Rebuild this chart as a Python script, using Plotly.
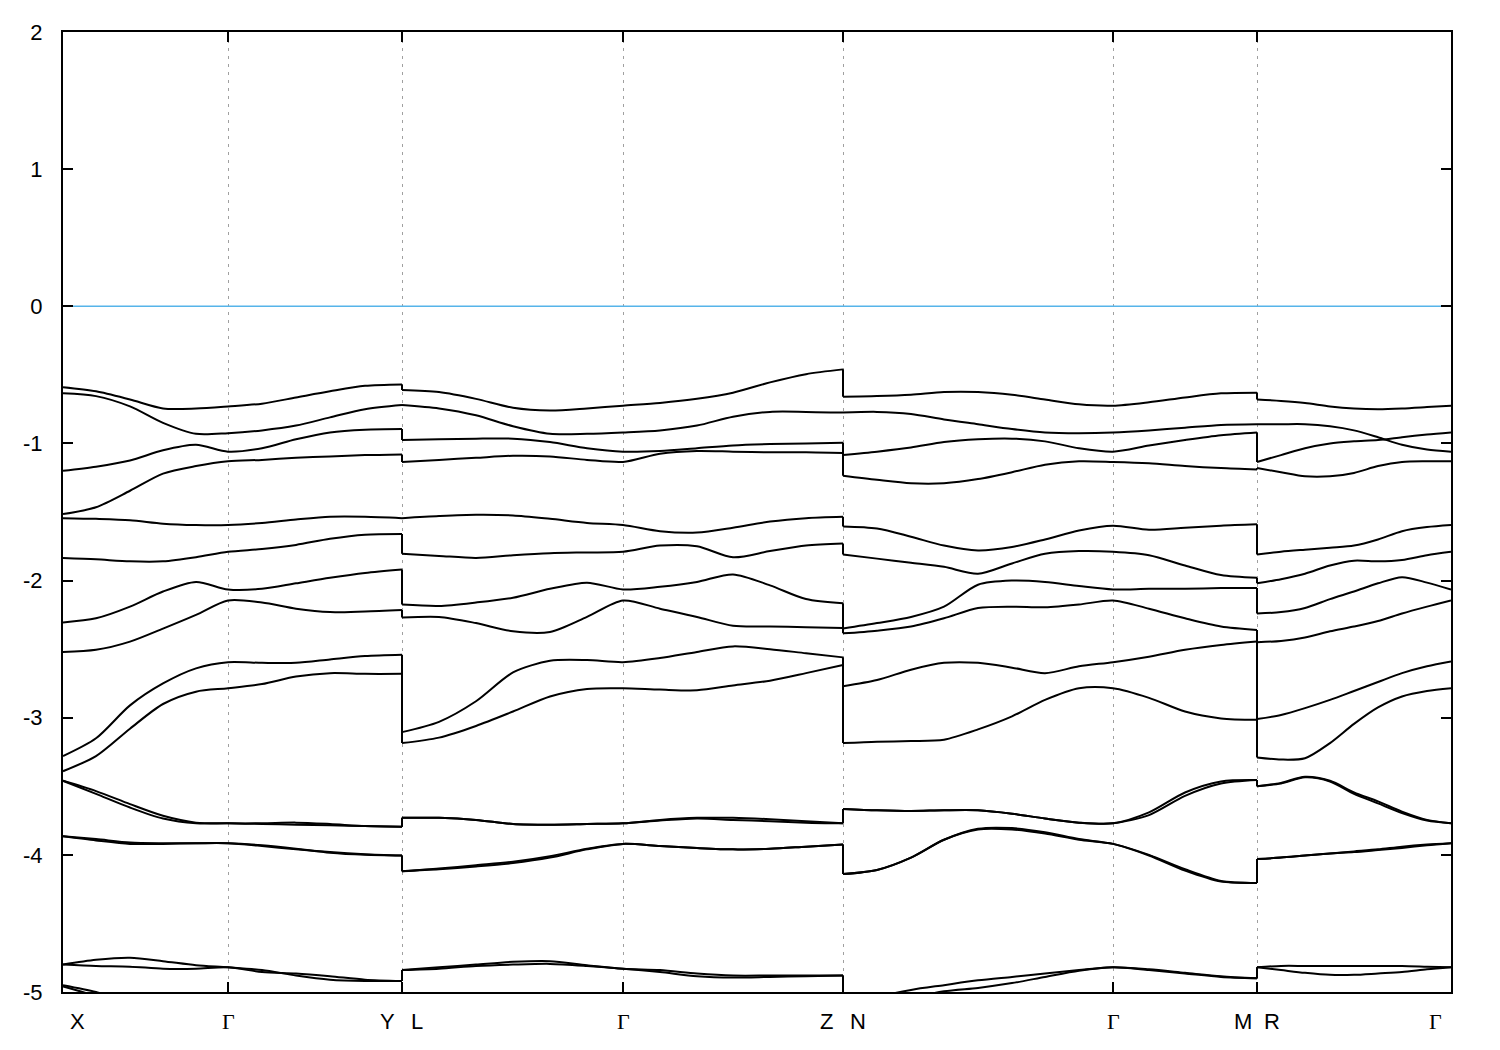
import plotly.graph_objects as go

# ---------------- data (energies in eV) ----------------
FERMI = 0.0
Y_TICKS = [-5, -4, -3, -2, -1, 0, 1, 2]

# high-symmetry points along the path (path coordinate)
SPECIAL_K = [0, 165, 339, 560, 780, 1050, 1194, 1388]
X_LABELS = ["X", "Γ", "Y", "L", "Γ", "Z", "N", "Γ", "M", "R", "Γ"]
X_LABEL_K = [0, 165, 339, 339, 560, 780, 780, 1050, 1194, 1194, 1388]

# band order in every segment: A B C D E F G H I J K1 K2 L1 L2 M1 M2 (N1 N2)
SEG1_K = [0, 33, 67, 100, 133, 165, 199, 233, 267, 302, 339]
SEG1_BANDS = [
    [-0.59, -0.62, -0.68, -0.745, -0.745, -0.73, -0.71, -0.665, -0.62, -0.58, -0.57],
    [-0.635, -0.655, -0.73, -0.85, -0.93, -0.925, -0.905, -0.87, -0.81, -0.75, -0.72],
    [-1.20, -1.17, -1.125, -1.05, -1.01, -1.06, -1.035, -0.97, -0.92, -0.90, -0.895],
    [-1.515, -1.465, -1.345, -1.22, -1.165, -1.13, -1.12, -1.105, -1.095, -1.085, -1.08],
    [-1.545, -1.55, -1.56, -1.585, -1.595, -1.595, -1.58, -1.555, -1.535, -1.535, -1.545],
    [-1.835, -1.845, -1.86, -1.86, -1.83, -1.79, -1.77, -1.74, -1.695, -1.665, -1.66],
    [-2.305, -2.275, -2.19, -2.08, -2.01, -2.065, -2.06, -2.02, -1.98, -1.945, -1.92],
    [-2.52, -2.505, -2.445, -2.35, -2.25, -2.145, -2.16, -2.205, -2.23, -2.225, -2.215],
    [-3.28, -3.15, -2.91, -2.75, -2.64, -2.595, -2.60, -2.60, -2.575, -2.55, -2.54],
    [-3.39, -3.28, -3.08, -2.90, -2.81, -2.785, -2.755, -2.70, -2.675, -2.68, -2.68],
    [-3.46, -3.535, -3.63, -3.715, -3.765, -3.77, -3.77, -3.765, -3.775, -3.79, -3.795],
    [-3.46, -3.555, -3.655, -3.735, -3.77, -3.77, -3.775, -3.78, -3.785, -3.79, -3.795],
    [-3.865, -3.885, -3.91, -3.915, -3.915, -3.915, -3.935, -3.96, -3.98, -3.995, -4.005],
    [-3.865, -3.895, -3.92, -3.92, -3.915, -3.915, -3.93, -3.955, -3.985, -4.0, -4.005],
    [-4.80, -4.765, -4.75, -4.775, -4.805, -4.82, -4.84, -4.88, -4.91, -4.92, -4.92],
    [-4.80, -4.81, -4.815, -4.83, -4.83, -4.82, -4.855, -4.865, -4.885, -4.91, -4.92],
    [-4.95, -5.0, -5.08, -5.15, -5.2, -5.25, -5.28, -5.3, -5.32, -5.33, -5.34],
    [-4.96, -5.03, -5.12, -5.2, -5.26, -5.3, -5.33, -5.35, -5.37, -5.38, -5.39],
]

SEG2_K = [339, 376, 413, 450, 487, 524, 560, 597, 634, 670, 707, 743, 780]
SEG2_BANDS = [
    [-0.61, -0.625, -0.675, -0.74, -0.76, -0.745, -0.725, -0.705, -0.675, -0.63, -0.555, -0.495, -0.46],
    [-0.72, -0.745, -0.795, -0.875, -0.93, -0.93, -0.92, -0.905, -0.87, -0.805, -0.77, -0.77, -0.775],
    [-0.975, -0.97, -0.965, -0.965, -0.99, -1.035, -1.06, -1.055, -1.035, -1.015, -1.005, -1.0, -0.995],
    [-1.135, -1.12, -1.105, -1.09, -1.095, -1.12, -1.135, -1.075, -1.055, -1.06, -1.065, -1.065, -1.07],
    [-1.545, -1.53, -1.52, -1.525, -1.55, -1.58, -1.595, -1.64, -1.65, -1.615, -1.57, -1.545, -1.535],
    [-1.805, -1.82, -1.835, -1.815, -1.80, -1.795, -1.79, -1.745, -1.75, -1.83, -1.785, -1.745, -1.73],
    [-2.175, -2.185, -2.16, -2.125, -2.06, -2.015, -2.065, -2.045, -2.01, -1.955, -2.035, -2.135, -2.165],
    [-2.27, -2.265, -2.31, -2.37, -2.375, -2.265, -2.145, -2.205, -2.265, -2.33, -2.335, -2.34, -2.345],
    [-3.105, -3.03, -2.88, -2.67, -2.585, -2.58, -2.595, -2.565, -2.52, -2.48, -2.50, -2.53, -2.56],
    [-3.185, -3.145, -3.06, -2.955, -2.845, -2.79, -2.785, -2.795, -2.80, -2.765, -2.73, -2.675, -2.615],
    [-3.73, -3.73, -3.745, -3.775, -3.78, -3.775, -3.77, -3.745, -3.73, -3.73, -3.74, -3.755, -3.77],
    [-3.73, -3.73, -3.745, -3.775, -3.78, -3.775, -3.77, -3.75, -3.735, -3.745, -3.755, -3.765, -3.77],
    [-4.12, -4.105, -4.085, -4.06, -4.02, -3.96, -3.92, -3.935, -3.95, -3.96, -3.955, -3.94, -3.925],
    [-4.12, -4.10, -4.075, -4.05, -4.01, -3.955, -3.92, -3.935, -3.95, -3.96, -3.955, -3.94, -3.925],
    [-4.84, -4.82, -4.80, -4.78, -4.775, -4.805, -4.83, -4.84, -4.865, -4.88, -4.88, -4.88, -4.88],
    [-4.84, -4.83, -4.81, -4.80, -4.795, -4.81, -4.83, -4.855, -4.885, -4.895, -4.89, -4.885, -4.88],
]

SEG3_K = [780, 814, 848, 881, 915, 949, 982, 1016, 1050, 1086, 1122, 1158, 1194]
SEG3_BANDS = [
    [-0.66, -0.655, -0.645, -0.625, -0.625, -0.645, -0.68, -0.715, -0.725, -0.70, -0.665, -0.635, -0.63],
    [-0.775, -0.77, -0.785, -0.825, -0.86, -0.895, -0.92, -0.925, -0.92, -0.905, -0.885, -0.865, -0.86],
    [-1.085, -1.06, -1.03, -0.99, -0.97, -0.965, -0.985, -1.035, -1.06, -1.015, -0.975, -0.94, -0.92],
    [-1.235, -1.265, -1.29, -1.29, -1.26, -1.21, -1.155, -1.13, -1.135, -1.145, -1.165, -1.18, -1.19],
    [-1.605, -1.62, -1.68, -1.745, -1.78, -1.755, -1.70, -1.635, -1.60, -1.63, -1.615, -1.60, -1.59],
    [-1.81, -1.84, -1.87, -1.90, -1.95, -1.875, -1.805, -1.785, -1.79, -1.815, -1.89, -1.96, -1.98],
    [-2.35, -2.31, -2.265, -2.19, -2.03, -2.0, -2.01, -2.04, -2.065, -2.06, -2.06, -2.055, -2.055],
    [-2.385, -2.365, -2.335, -2.275, -2.20, -2.19, -2.195, -2.175, -2.145, -2.205, -2.275, -2.335, -2.36],
    [-2.77, -2.725, -2.65, -2.60, -2.60, -2.635, -2.675, -2.625, -2.595, -2.555, -2.505, -2.47, -2.445],
    [-3.185, -3.175, -3.17, -3.16, -3.085, -2.99, -2.87, -2.785, -2.785, -2.855, -2.955, -3.005, -3.015],
    [-3.665, -3.675, -3.68, -3.675, -3.675, -3.70, -3.735, -3.765, -3.77, -3.69, -3.545, -3.465, -3.455],
    [-3.665, -3.675, -3.68, -3.675, -3.675, -3.70, -3.735, -3.765, -3.77, -3.71, -3.57, -3.48, -3.455],
    [-4.14, -4.11, -4.02, -3.89, -3.81, -3.805, -3.835, -3.885, -3.92, -4.0, -4.105, -4.19, -4.205],
    [-4.14, -4.11, -4.02, -3.89, -3.815, -3.815, -3.845, -3.89, -3.92, -4.005, -4.115, -4.195, -4.205],
    [-5.15, -5.04, -4.985, -4.95, -4.915, -4.89, -4.865, -4.84, -4.82, -4.835, -4.86, -4.885, -4.90],
    [-5.25, -5.15, -5.05, -4.995, -4.97, -4.935, -4.89, -4.845, -4.82, -4.84, -4.865, -4.89, -4.90],
]

SEG4_K = [1194, 1218, 1242, 1267, 1291, 1315, 1339, 1364, 1388]
SEG4_BANDS = [
    [-0.68, -0.69, -0.705, -0.73, -0.745, -0.75, -0.745, -0.735, -0.725],
    [-0.86, -0.86, -0.86, -0.875, -0.905, -0.955, -1.01, -1.045, -1.06],
    [-1.135, -1.085, -1.035, -1.0, -0.985, -0.975, -0.955, -0.935, -0.92],
    [-1.18, -1.21, -1.24, -1.24, -1.215, -1.165, -1.135, -1.13, -1.13],
    [-1.81, -1.79, -1.775, -1.76, -1.745, -1.70, -1.64, -1.61, -1.595],
    [-2.02, -1.99, -1.95, -1.89, -1.855, -1.86, -1.85, -1.815, -1.79],
    [-2.24, -2.23, -2.20, -2.135, -2.08, -2.02, -1.975, -2.015, -2.065],
    [-3.29, -3.305, -3.295, -3.185, -3.045, -2.925, -2.845, -2.805, -2.785],
    [-2.45, -2.44, -2.415, -2.37, -2.335, -2.295, -2.24, -2.19, -2.145],
    [-3.01, -2.98, -2.93, -2.87, -2.805, -2.74, -2.675, -2.625, -2.59],
    [-3.50, -3.475, -3.43, -3.46, -3.545, -3.61, -3.685, -3.745, -3.77],
    [-3.50, -3.48, -3.435, -3.465, -3.555, -3.625, -3.695, -3.75, -3.77],
    [-4.03, -4.02, -4.005, -3.99, -3.975, -3.96, -3.94, -3.925, -3.915],
    [-4.03, -4.02, -4.005, -3.99, -3.98, -3.965, -3.95, -3.93, -3.915],
    [-4.82, -4.81, -4.81, -4.81, -4.81, -4.81, -4.81, -4.815, -4.82],
    [-4.82, -4.84, -4.86, -4.875, -4.875, -4.865, -4.855, -4.835, -4.82],
]

SEGMENTS = [(SEG1_K, SEG1_BANDS), (SEG2_K, SEG2_BANDS), (SEG3_K, SEG3_BANDS), (SEG4_K, SEG4_BANDS)]

# ---------------- styles ----------------
BAND_COLOR = "black"
BAND_WIDTH = 2
FERMI_COLOR = "#56b4e9"
SANS = "Liberation Sans, Arial, sans-serif"
SERIF = "Liberation Serif, Times New Roman, serif"
FONT_SIZE = 22
# horizontal offsets (px) of the k-point labels relative to their tick
LABEL_SHIFT = [14, 0, -15, 15, 0, -17, 15, 0, -14, 15, -16]

fig = go.Figure()

# Fermi level
fig.add_trace(go.Scatter(x=[SPECIAL_K[0], SPECIAL_K[-1]], y=[FERMI, FERMI], mode="lines",
                         line=dict(color=FERMI_COLOR, width=1.5), hoverinfo="skip"))

# bands, segment by segment (smooth curves)
for k, bands in SEGMENTS:
    for vals in bands:
        fig.add_trace(go.Scatter(x=k, y=vals, mode="lines",
                                 line=dict(color=BAND_COLOR, width=BAND_WIDTH, shape="spline", smoothing=0.8),
                                 hoverinfo="skip"))

# vertical connectors at the path discontinuities
for s in range(len(SEGMENTS) - 1):
    k_a, b_a = SEGMENTS[s]
    k_b, b_b = SEGMENTS[s + 1]
    for i in range(min(len(b_a), len(b_b))):
        fig.add_trace(go.Scatter(x=[k_a[-1], k_b[0]], y=[b_a[i][-1], b_b[i][0]], mode="lines",
                                 line=dict(color=BAND_COLOR, width=BAND_WIDTH), hoverinfo="skip"))

# k-point labels
for lab, kx, dx in zip(X_LABELS, X_LABEL_K, LABEL_SHIFT):
    fam = SERIF if lab == "Γ" else SANS
    fig.add_annotation(x=kx, y=0, xref="x", yref="paper", text=lab, showarrow=False,
                       xanchor="center", yanchor="middle", xshift=dx, yshift=-29,
                       font=dict(family=fam, size=FONT_SIZE, color="black"))

# the page adds an 8 px body margin, so margins are reduced accordingly
fig.update_layout(
    width=1500, height=1050,
    margin=dict(l=55, r=57, t=20, b=66),
    paper_bgcolor="white", plot_bgcolor="white",
    showlegend=False,
    font=dict(family=SANS, size=FONT_SIZE, color="black"),
)
fig.update_xaxes(
    range=[SPECIAL_K[0], SPECIAL_K[-1]],
    tickmode="array", tickvals=SPECIAL_K, showticklabels=False,
    ticks="inside", ticklen=10, tickwidth=2, tickcolor="black",
    showline=True, linecolor="black", linewidth=2, mirror="ticks",
    showgrid=True, gridcolor="#a0a0a0", gridwidth=1, griddash="3px,5px",
    zeroline=False,
)
fig.update_yaxes(
    range=[Y_TICKS[0], Y_TICKS[-1]],
    tickmode="array", tickvals=Y_TICKS, ticktext=[str(v) for v in Y_TICKS],
    ticks="inside", ticklen=10, tickwidth=2, tickcolor="black",
    showline=True, linecolor="black", linewidth=2, mirror="ticks",
    showgrid=False, zeroline=False, ticklabelstandoff=14,
    tickfont=dict(family=SANS, size=FONT_SIZE, color="black"),
)

fig.write_html("out.html")
